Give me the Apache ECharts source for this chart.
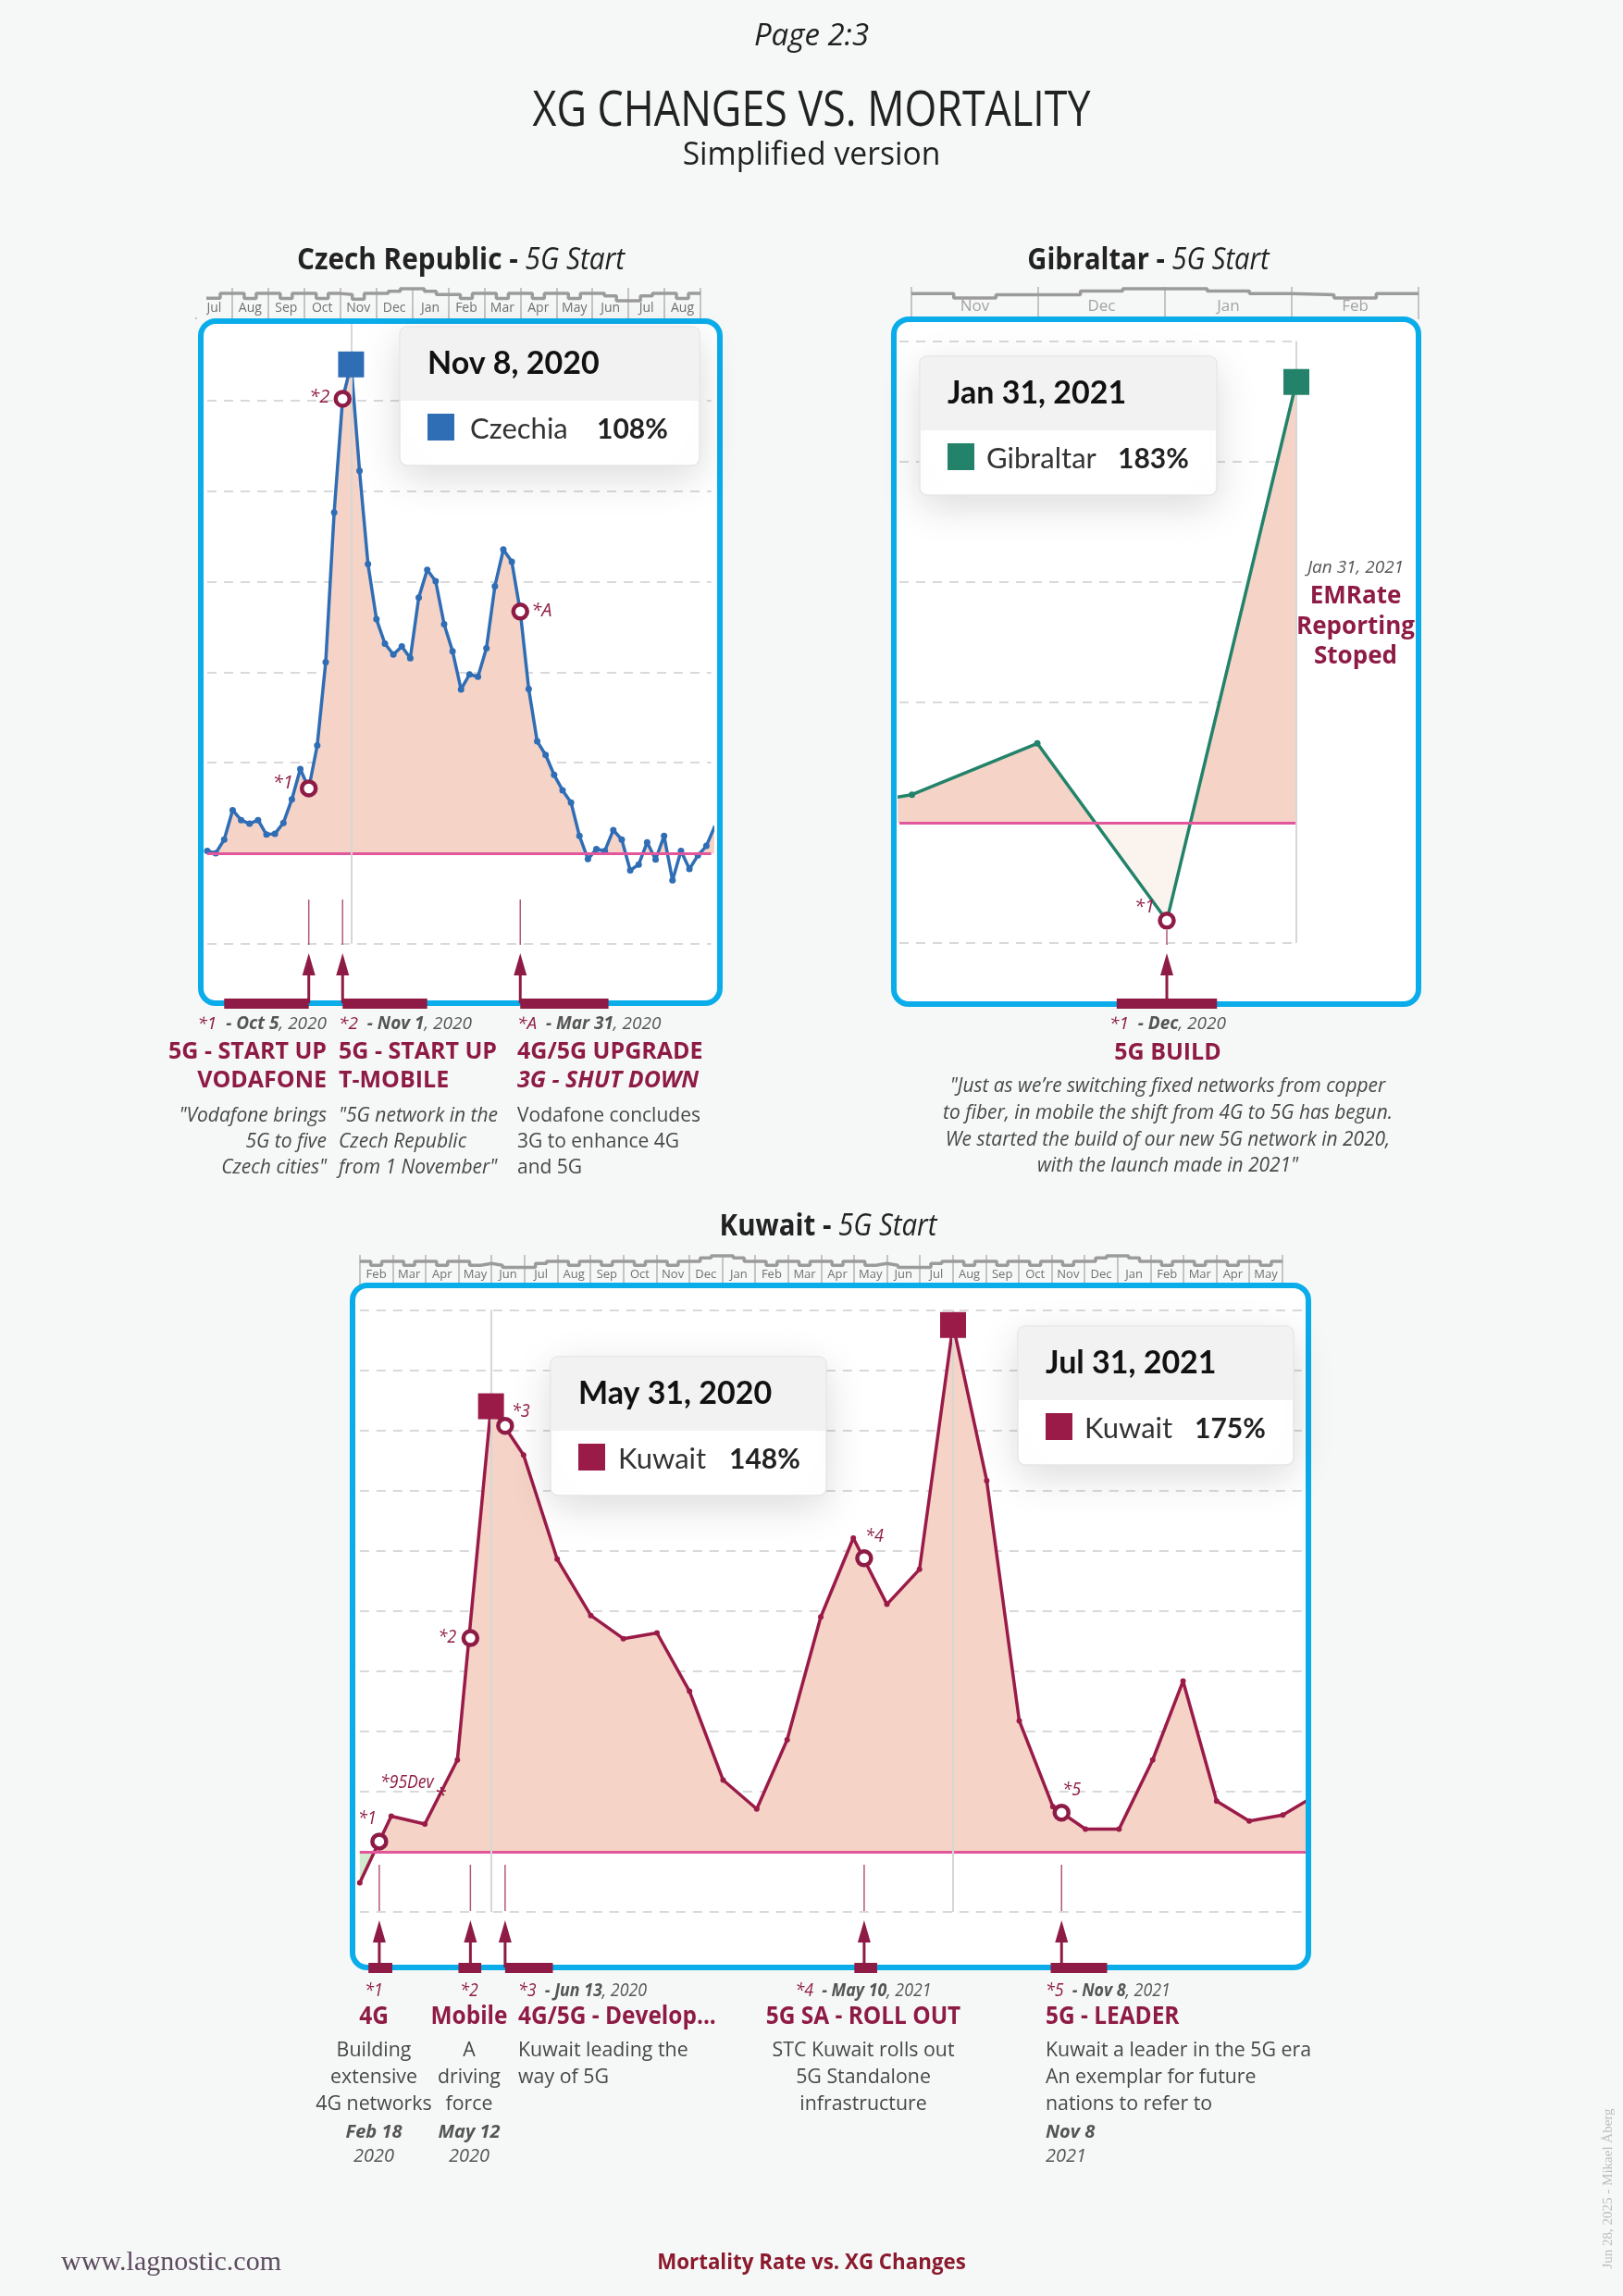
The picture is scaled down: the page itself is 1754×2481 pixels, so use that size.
<!DOCTYPE html>
<html>
<head>
<meta charset="utf-8">
<title>XG Changes vs. Mortality</title>
<script src="https://cdn.jsdelivr.net/npm/echarts@6/dist/echarts.min.js"></script>
<style>
  html, body { margin: 0; padding: 0; background: #f6f8f7; }
  #main { width: 1754px; height: 2481px; }
</style>
</head>
<body>
<div id="main"></div>
<script>
// ---------- values ----------

// Czech Republic, weekly mortality change (%), first week ending 12 Jul 2020
const czechStart = '2020-07-12';
const czechValues = [
  0.5, 0, 3.0, 9.5, 7.3, 6.5, 7.3, 4.1, 4.3, 6.7,
  11.9, 18.6, 14.3, 23.8, 42.2, 75.3, 100.4, 108, 84.5, 63.9,
  51.7, 46.3, 43.9, 45.7, 43.1, 56.5, 62.6, 60.1, 50.6, 44.6,
  36.2, 39.5, 39.0, 45.3, 59.0, 67.1, 64.4, 53.4, 36.3, 24.7,
  21.7, 17.3, 13.9, 11.2, 3.8, -1.3, 0.9, 0.5, 5.1, 3.0,
  -3.8, -2.5, 2.4, -1.4, 3.8, -6.0, 0.5, -3.5, -0.5, 1.6,
  6.0
];
const czechNotes = [
  { tag: '*1', date: '2020-10-04', value: 14.3, barFrom: '2020-07-26', barTo: '2020-10-04' },
  { tag: '*2', date: '2020-11-01', value: 100.4, barFrom: '2020-11-01', barTo: '2021-01-10' },
  { tag: '*A', date: '2021-03-28', value: 53.4, barFrom: '2021-03-28', barTo: '2021-06-09' }
];
const czechStripMonths = ['Jul', 'Aug', 'Sep', 'Oct', 'Nov', 'Dec', 'Jan', 'Feb', 'Mar', 'Apr', 'May', 'Jun', 'Jul', 'Aug'];
const czechStripLevels = [
  13, 13, 28, 28, 12, 28, 28, 12, 28, 28, 12, 28, 25, 10, 28, 28, 35, 43, 43, 35, 25,
  25, 12, 28, 28, 12, 28, 28, 12, 28, 28, 12, 28, 28, 20, 5, 5, 20, 28, 28, 12, 28
];

// Gibraltar, monthly
const gibDates = ['2020-09-30', '2020-10-31', '2020-11-30', '2020-12-31', '2021-01-31'];
const gibValues = [3, 11.6, 32.9, -40.7, 183];
const gibNotes = [
  { tag: '*1', date: '2020-12-31', value: -40.7, barFrom: '2020-12-19', barTo: '2021-01-12' }
];
const gibStripMonths = ['Nov', 'Dec', 'Jan', 'Feb'];
const gibStripLevels = [25, 12, 22, 22, 33, 40, 40, 33, 25, 22, 12, 25];

// Kuwait, monthly
const kuwaitDates = [
  '2020-01-31', '2020-02-29', '2020-03-31', '2020-04-30', '2020-05-31', '2020-06-30',
  '2020-07-31', '2020-08-31', '2020-09-30', '2020-10-31', '2020-11-30', '2020-12-31',
  '2021-01-31', '2021-02-28', '2021-03-31', '2021-04-30', '2021-05-31', '2021-06-30',
  '2021-07-31', '2021-08-31', '2021-09-30', '2021-10-31', '2021-11-30', '2021-12-31',
  '2022-01-31', '2022-02-28', '2022-03-31', '2022-04-30', '2022-05-31', '2022-06-30'
];
const kuwaitValues = [
  -10.3, 11.8, 9.2, 30.5, 148, 131.8, 97.2, 78.5, 70.8, 72.7, 53.3, 23.8,
  14.2, 37.2, 78, 104.2, 82.2, 93.8, 175, 123.3, 43.5, 15, 7.5, 7.5,
  30.5, 56.7, 16.8, 10.2, 12.2, 18.7
];
const kuwaitHighlights = ['2020-05-31', '2021-07-31'];
const kuwaitNotes = [
  { tag: '*1', date: '2020-02-18', value: 3.4, barFrom: '2020-02-08', barTo: '2020-03-01' },
  { tag: '*2', date: '2020-05-12', value: 71, barFrom: '2020-05-01', barTo: '2020-05-22' },
  { tag: '*3', date: '2020-06-13', value: 141.5, barFrom: '2020-06-13', barTo: '2020-07-27' },
  { tag: '*4', date: '2021-05-10', value: 97.5, barFrom: '2021-05-01', barTo: '2021-05-22' },
  { tag: '*5', date: '2021-11-08', value: 13, barFrom: '2021-10-29', barTo: '2021-12-20' }
];
const kuwaitAside = { tag: '*95Dev', date: '2020-04-15', value: 19.8 };
const kuwaitStripMonths = ['Feb', 'Mar', 'Apr', 'May', 'Jun', 'Jul', 'Aug', 'Sep', 'Oct', 'Nov', 'Dec', 'Jan',
  'Feb', 'Mar', 'Apr', 'May', 'Jun', 'Jul', 'Aug', 'Sep', 'Oct', 'Nov', 'Dec', 'Jan', 'Feb', 'Mar', 'Apr', 'May'];
const kuwaitStripLevels = [
  25, 12, 25, 25, 12, 25, 25, 12, 25, 25, 12, 18, 12, 5, 5, 5, 18, 25, 25, 12, 25, 25, 12, 25,
  25, 12, 25, 25, 12, 25, 25, 36, 43, 43, 36, 25, 25, 12, 25, 25, 12, 25, 25, 12, 25, 25, 12, 18,
  12, 5, 5, 5, 18, 25, 25, 12, 25, 25, 12, 25, 25, 12, 25, 25, 12, 25, 25, 36, 43, 43, 36, 25,
  25, 12, 25, 25, 12, 25, 25, 12, 25, 25, 12, 25
];

// annotation texts
const czechColumns = [
  { x: 353, align: 'right', date: ['*1', 'Oct 5', ', 2020'], head: ['5G - START UP', 'VODAFONE'],
    body: ['"Vodafone brings', '5G to five', 'Czech cities"'], italic: true },
  { x: 366, align: 'left', date: ['*2', 'Nov 1', ', 2020'], head: ['5G - START UP', 'T-MOBILE'],
    body: ['"5G network in the', 'Czech Republic', 'from 1 November"'], italic: true },
  { x: 559, align: 'left', date: ['*A', 'Mar 31', ', 2020'], head: ['4G/5G UPGRADE', '3G - SHUT DOWN'],
    body: ['Vodafone concludes', '3G to enhance 4G', 'and 5G'], italic: false }
];
const gibColumn = {
  date: ['*1', 'Dec', ', 2020'], head: '5G BUILD',
  body: ['"Just as we\u2019re switching fixed networks from copper', 'to fiber, in mobile the shift from 4G to 5G has begun.',
    'We started the build of our new 5G network in 2020,', 'with the launch made in 2021"']
};
const gibSide = ['Jan 31, 2021', 'EMRate', 'Reporting', 'Stoped'];
const kuwaitColumns = [
  { x: 404, align: 'center', date: ['*1', '', ''], head: '4G', body: ['Building', 'extensive', '4G networks'], when: ['Feb 18', '2020'] },
  { x: 507, align: 'center', date: ['*2', '', ''], head: 'Mobile', body: ['A', 'driving', 'force'], when: ['May 12', '2020'] },
  { x: 560, align: 'left', date: ['*3', 'Jun 13', ', 2020'], head: '4G/5G - Develop...', body: ['Kuwait leading the', 'way of 5G'] },
  { x: 933, align: 'center', date: ['*4', 'May 10', ', 2021'], head: '5G SA - ROLL OUT', body: ['STC Kuwait rolls out', '5G Standalone', 'infrastructure'] },
  { x: 1130, align: 'left', date: ['*5', 'Nov 8', ', 2021'], head: '5G - LEADER',
    body: ['Kuwait a leader in the 5G era', 'An exemplar for future', 'nations to refer to'], when: ['Nov 8', '2021'] }
];

// ---------- helpers ----------
const MON = ['Jan', 'Feb', 'Mar', 'Apr', 'May', 'Jun', 'Jul', 'Aug', 'Sep', 'Oct', 'Nov', 'Dec'];
const day = s => { const p = s.split('-'); return new Date(+p[0], p[1] - 1, +p[2]).getTime(); };
const fmt = ts => { const d = new Date(ts); return MON[d.getMonth()] + ' ' + d.getDate() + ', ' + d.getFullYear(); };

const FONT = '"Open Sans", "Noto Sans", sans-serif';
const TIP_FONT = 'Lato, "Open Sans", sans-serif';
const PAGE = '#f6f8f7';
const MAROON = '#8e1b45';
const TXT = '#474747';
const SALMON = '#f5d3c7';
const PINK = '#e2569b';
const BLUE = '#2f6db5';
const GREEN = '#23836a';
const KUW = '#9a1b48';

const czechData = czechValues.map((v, i) => [new Date(2020, 6, 12 + 7 * i).getTime(), v]);
const gibData = gibDates.map((d, i) => [day(d), gibValues[i]]);
const kuwaitData = kuwaitDates.map((d, i) => [day(d), kuwaitValues[i]]);

const czechPeak = czechData[czechValues.indexOf(Math.max(...czechValues))];
const gibPeak = gibData[gibValues.indexOf(Math.max(...gibValues))];
const kuwaitPeaks = kuwaitHighlights.map(d => kuwaitData[kuwaitDates.indexOf(d)]);

function mainY(gi, min, max, interval, showMax) {
  return {
    type: 'value', gridIndex: gi, min, max, interval,
    axisLine: { show: false }, axisTick: { show: false }, axisLabel: { show: false },
    splitLine: { show: true, showMaxLine: showMax, lineStyle: { color: '#d9d9d9', width: 2, type: [10, 8] } }
  };
}

function stripAxes(gi, months, label) {
  return [
    {
      type: 'category', gridIndex: gi, data: months, boundaryGap: true, position: 'bottom',
      axisLine: { show: false }, axisTick: { show: false },
      splitLine: { show: true, interval: 0, lineStyle: { color: '#b3b3b3', width: 1.5 } },
      axisLabel: Object.assign({ inside: true, margin: 5, interval: 0, fontFamily: FONT }, label)
    },
    { type: 'value', gridIndex: gi, min: 0, max: months.length * 3, show: false, position: 'top' }
  ];
}

function stripSeries(xi, yi, levels) {
  const data = levels.map((l, i) => [i, l]);
  data.push([levels.length, levels[levels.length - 1]]);
  return {
    type: 'line', xAxisIndex: xi, yAxisIndex: yi, data, step: 'end', symbol: 'none',
    lineStyle: { color: '#9b9b9b', width: 3.5 }, silent: true, z: 3
  };
}

function mainSeries(id, xi, yi, data, color, sym, width, cross) {
  return {
    id, type: 'line', xAxisIndex: xi, yAxisIndex: yi, data,
    symbol: 'circle', symbolSize: sym, showSymbol: true,
    itemStyle: { color }, lineStyle: { color, width },
    areaStyle: { color: SALMON, opacity: 1 },
    silent: true, z: 3,
    markLine: {
      silent: true, symbol: ['none', 'none'], label: { show: false }, animation: false,
      data: [{ yAxis: 0, lineStyle: { color: PINK, width: 3, type: 'solid' } }]
        .concat(cross.map(t => ({ xAxis: t, lineStyle: { color: '#d6d6d6', width: 2, type: 'solid' } })))
    }
  };
}

function peakSeries(xi, yi, pts, color) {
  return {
    type: 'scatter', xAxisIndex: xi, yAxisIndex: yi, data: pts,
    symbol: 'rect', symbolSize: 28, itemStyle: { color, opacity: 1 }, silent: true, z: 6
  };
}

function noteSeries(xi, yi, notes) {
  return {
    type: 'scatter', xAxisIndex: xi, yAxisIndex: yi,
    data: notes.map(n => [day(n.date), n.value]),
    symbol: 'circle', symbolSize: 15,
    itemStyle: { color: '#fff', borderColor: MAROON, borderWidth: 4.5, opacity: 1 }, silent: true, z: 7
  };
}

// ---------- chart ----------
const chart = echarts.init(document.getElementById('main'), null, { renderer: 'canvas', width: 1754, height: 2481 });

chart.setOption({
  backgroundColor: PAGE,
  animation: false,
  grid: [
    { left: 224, top: 344.9, width: 544.6, height: 674.8 },     // 0 Czech
    { left: 212, top: 311, width: 545, height: 34 },            // 1 Czech strip
    { left: 972, top: 368.5, width: 429, height: 650.5 },       // 2 Gibraltar
    { left: 985, top: 310, width: 548, height: 35 },            // 3 Gibraltar strip
    { left: 388.8, top: 1415.5, width: 1022.2, height: 650.5 }, // 4 Kuwait
    { left: 388.8, top: 1356, width: 997, height: 33 }          // 5 Kuwait strip
  ],
  xAxis: [
    { type: 'time', gridIndex: 0, min: day('2020-07-12'), max: day('2021-09-02'), show: false },
    ...stripAxes(1, czechStripMonths, { color: '#707070', fontSize: 14 }),
    { type: 'time', gridIndex: 2, min: day('2020-10-28'), max: day('2021-01-31'), show: false },
    ...stripAxes(3, gibStripMonths, { color: '#a3a3a3', fontSize: 17 }),
    { type: 'time', gridIndex: 4, min: day('2020-01-31'), max: day('2022-06-21'), show: false },
    ...stripAxes(5, kuwaitStripMonths, { color: '#707070', fontSize: 13 })
  ],
  yAxis: [
    mainY(0, -20, 118, 20, false),
    { type: 'value', gridIndex: 1, min: -54, max: 46, show: false },
    mainY(2, -50, 200, 50, true),
    { type: 'value', gridIndex: 3, min: -54, max: 46, show: false },
    mainY(4, -20, 180, 20, true),
    { type: 'value', gridIndex: 5, min: -54, max: 46, show: false }
  ],
  series: [
    mainSeries('cz', 0, 0, czechData, BLUE, 7, 3.5, [czechPeak[0]]),
    peakSeries(0, 0, [czechPeak], BLUE),
    noteSeries(0, 0, czechNotes),
    stripSeries(2, 1, czechStripLevels),

    mainSeries('gi', 3, 2, gibData, GREEN, 7, 3.5, [gibPeak[0]]),
    peakSeries(3, 2, [gibPeak], GREEN),
    noteSeries(3, 2, gibNotes),
    stripSeries(5, 3, gibStripLevels),

    mainSeries('ku', 6, 4, kuwaitData, KUW, 6, 3.5, kuwaitPeaks.map(p => p[0])),
    peakSeries(6, 4, kuwaitPeaks, KUW),
    noteSeries(6, 4, kuwaitNotes),
    stripSeries(8, 5, kuwaitStripLevels)
  ]
});

// ---------- second pass: pixel-dependent decoration ----------
const P = (gi, d, v) => chart.convertToPixel({ gridIndex: gi }, [d, v]);

function txt(x, y, text, o) {
  o = o || {};
  return {
    type: 'text', x, y, z: o.z || 30, scaleX: o.sx || 1, silent: true,
    style: {
      text, fill: o.color || TXT,
      fontFamily: o.family || FONT, fontSize: o.size || 20,
      fontWeight: o.weight || 'normal', fontStyle: o.style || 'normal',
      align: o.align || 'left', textAlign: o.align || 'left',
      verticalAlign: 'middle', textVerticalAlign: 'middle',
      rich: o.rich
    }
  };
}

function dateLine(x, y, parts, align, size, sx) {
  const base = { fontFamily: FONT, fontSize: size, fontStyle: 'italic' };
  const rich = {
    r: Object.assign({ fill: MAROON, color: MAROON }, base),
    g: Object.assign({ fill: '#555', color: '#555', fontWeight: 'bold' }, base),
    n: Object.assign({ fill: '#555', color: '#555' }, base)
  };
  let t = '{r|' + parts[0] + '}';
  if (parts[1]) t += '{g|  - ' + parts[1] + '}{n|' + parts[2] + '}';
  return txt(x, y, t, { align, rich, sx });
}

function box(x, y, w, h) {
  return [
    { type: 'rect', z: -5, silent: true, shape: { x, y, width: w, height: h, r: 16 }, style: { fill: '#ffffff' } },
    { type: 'rect', z: 20, silent: true, shape: { x, y, width: w, height: h, r: 16 }, style: { fill: 'none', stroke: '#0aadea', lineWidth: 6 } }
  ];
}

function tip(x, y, w, ts, name, val, color, nameDx, valDx) {
  const z = 40;
  return [
    { type: 'rect', z, silent: true, shape: { x, y, width: w, height: 150, r: 8 },
      style: { fill: '#fff', stroke: '#e6e6e6', lineWidth: 1.5, shadowBlur: 45, shadowColor: 'rgba(0,0,0,0.14)', shadowOffsetY: 12 } },
    { type: 'rect', z, silent: true, shape: { x: x + 1, y: y + 1, width: w - 2, height: 79, r: [7, 7, 0, 0] }, style: { fill: '#f2f2f2' } },
    txt(x + 30, y + 40, fmt(ts), { family: TIP_FONT, weight: 'bold', size: 34, color: '#111', z }),
    { type: 'rect', z, silent: true, shape: { x: x + 30, y: y + 94, width: 29, height: 29 }, style: { fill: color } },
    txt(x + nameDx, y + 111, name, { family: TIP_FONT, size: 31, color: '#333', z }),
    txt(x + valDx, y + 111, Math.round(val) + '%', { family: TIP_FONT, size: 30, weight: 'bold', color: '#222', z })
  ];
}

function arrows(gi, notes, g) {
  const out = [];
  notes.forEach(n => {
    const x = P(gi, day(n.date), 0)[0];
    const x1 = P(gi, day(n.barFrom), 0)[0];
    const x2 = P(gi, day(n.barTo), 0)[0];
    out.push(
      { type: 'line', z: 25, silent: true, shape: { x1: x, y1: g.top, x2: x, y2: g.bot }, style: { stroke: '#b2587c', lineWidth: 1.5 } },
      { type: 'polygon', z: 25, silent: true, shape: { points: [[x, g.tip], [x - 7, g.base], [x + 7, g.base]] }, style: { fill: MAROON } },
      { type: 'line', z: 25, silent: true, shape: { x1: x, y1: g.base, x2: x, y2: g.bar }, style: { stroke: MAROON, lineWidth: 3 } },
      { type: 'rect', z: 25, silent: true, shape: { x: x1, y: g.bar - 5, width: x2 - x1, height: 11 }, style: { fill: MAROON } }
    );
  });
  return out;
}

function noteLabels(gi, notes, offs, sx) {
  return notes.map(n => {
    const p = P(gi, day(n.date), n.value);
    const o = offs[n.tag];
    return txt(p[0] + o[0], p[1] + o[1], n.tag, { align: 'center', style: 'italic', size: 20, color: MAROON, sx });
  });
}

function split(gi, x, above, below) {
  const y0 = P(gi, x, 0)[1];
  return {
    type: 'linear', x: 0, y: y0 - 0.5, x2: 0, y2: y0 + 0.5, global: true,
    colorStops: [{ offset: 0, color: above }, { offset: 0.5, color: above }, { offset: 0.5, color: below }, { offset: 1, color: below }]
  };
}

const G = [];
// header
G.push(txt(877, 40, 'Page 2:3', { align: 'center', style: 'italic', size: 33, color: '#222' }));
G.push(txt(877, 121, 'XG CHANGES VS. MORTALITY', { align: 'center', size: 53, color: '#222', sx: 0.845 }));
G.push(txt(877, 168, 'Simplified version', { align: 'center', size: 34, color: '#222', sx: 0.99 }));

// chart titles
const titleRich = size => ({
  b: { fill: '#222', color: '#222', fontFamily: FONT, fontWeight: 'bold', fontSize: size },
  i: { fill: '#222', color: '#222', fontFamily: FONT, fontStyle: 'italic', fontSize: size }
});
G.push(txt(498, 282, '{b|Czech Republic - }{i|5G Start}', { align: 'center', rich: titleRich(32), sx: 0.93 }));
G.push(txt(1241, 282, '{b|Gibraltar - }{i|5G Start}', { align: 'center', rich: titleRich(32), sx: 0.91 }));
G.push(txt(895, 1326, '{b|Kuwait - }{i|5G Start}', { align: 'center', rich: titleRich(32), sx: 0.92 }));

// the Czech month strip begins mid-July: hide the part before the first week
G.push({ type: 'rect', z: 10, silent: true, shape: { x: 200, y: 300, width: 23, height: 43 }, style: { fill: PAGE } });

// boxes
G.push(...box(217, 347, 561, 737));
G.push(...box(966, 345, 567, 740));
G.push(...box(381, 1389, 1033, 737));

// tooltips
G.push(...tip(432, 353, 324, czechPeak[0], 'Czechia', czechPeak[1], BLUE, 76, 213));
G.push(...tip(994, 385, 321, gibPeak[0], 'Gibraltar', gibPeak[1], GREEN, 72, 214));
G.push(...tip(595, 1466, 298, kuwaitPeaks[0][0], 'Kuwait', kuwaitPeaks[0][1], KUW, 73, 193));
G.push(...tip(1100, 1433, 298, kuwaitPeaks[1][0], 'Kuwait', kuwaitPeaks[1][1], KUW, 72, 191));

// markers: arrows and bars
G.push(...arrows(0, czechNotes, { top: 972, bot: 1021, tip: 1030, base: 1054, bar: 1084 }));
G.push(...arrows(2, gibNotes, { top: 1005, bot: 1021, tip: 1030, base: 1054, bar: 1084 }));
G.push(...arrows(4, kuwaitNotes, { top: 2015, bot: 2065, tip: 2075, base: 2099, bar: 2126 }));

// marker labels
G.push(...noteLabels(0, czechNotes, { '*1': [-28, -6], '*2': [-25, -2], '*A': [23, 0] }));
G.push(...noteLabels(2, gibNotes, { '*1': [-24, -15] }));
G.push(...noteLabels(4, kuwaitNotes, { '*1': [-13, -25], '*2': [-25, -1], '*3': [17, -15], '*4': [11, -24], '*5': [11, -24] }, 0.9));
{
  const p = P(4, day(kuwaitAside.date), kuwaitAside.value);
  G.push(txt(p[0] - 8, p[1] - 10, kuwaitAside.tag, { align: 'right', style: 'italic', size: 20, color: MAROON, sx: 0.88 }));
  G.push(txt(p[0], p[1] + 4, '*', { align: 'center', size: 22, color: MAROON }));
}

// Czech annotations
czechColumns.forEach(c => {
  G.push(dateLine(c.x, 1107, c.date, c.align, 19));
  c.head.forEach((h, i) => G.push(txt(c.x, 1137 + i * 31, h, {
    align: c.align, size: 25, weight: 'bold', color: MAROON, style: (c.date[0] === '*A' && i === 1) ? 'italic' : 'normal'
  })));
  c.body.forEach((b, i) => G.push(txt(c.x, 1206 + i * 28, b, { align: c.align, size: 21, style: c.italic ? 'italic' : 'normal' })));
});

// Gibraltar annotations
G.push(dateLine(1262, 1107, gibColumn.date, 'center', 19));
G.push(txt(1262, 1138, gibColumn.head, { align: 'center', size: 25, weight: 'bold', color: MAROON }));
gibColumn.body.forEach((b, i) => G.push(txt(1262, 1174 + i * 28.7, b, { align: 'center', size: 22, style: 'italic', sx: 0.95 })));
G.push(txt(1465, 614, gibSide[0], { align: 'center', size: 19, style: 'italic', color: '#555' }));
gibSide.slice(1).forEach((s, i) => G.push(txt(1465, 645 + i * 32.5, s, { align: 'center', size: 26, weight: 'bold', color: MAROON })));

// Kuwait annotations
kuwaitColumns.forEach(c => {
  G.push(dateLine(c.x, 2151, c.date, c.align, 20, 0.89));
  G.push(txt(c.x, 2180, c.head, { align: c.align, size: 26, weight: 'bold', color: MAROON, sx: 0.94 }));
  c.body.forEach((b, i) => G.push(txt(c.x, 2216 + i * 28.8, b, { align: c.align, size: 22, sx: 0.97 })));
  if (c.when) {
    G.push(txt(c.x, 2304, c.when[0], { align: c.align, size: 20, weight: 'bold', style: 'italic', color: '#555' }));
    G.push(txt(c.x, 2330, c.when[1], { align: c.align, size: 20, style: 'italic', color: '#555' }));
  }
});

// footer
G.push(txt(66, 2445, 'www.lagnostic.com', { family: '"Liberation Serif", "DejaVu Serif", serif', size: 30, color: '#5d4b60' }));
G.push(txt(877, 2445, 'Mortality Rate vs. XG Changes', { align: 'center', size: 24, weight: 'bold', color: '#8b1a2e', sx: 0.93 }));
G.push({
  type: 'text', x: 1738, y: 2365, rotation: Math.PI / 2, silent: true, z: 30,
  style: { text: 'Jun 28, 2025 - Mikael \u00c5berg', fill: '#bdbdbd', fontFamily: '"Liberation Serif", serif', fontSize: 15,
    align: 'center', textAlign: 'center', verticalAlign: 'middle', textVerticalAlign: 'middle' }
});

chart.setOption({
  series: [
    { id: 'cz', areaStyle: { color: split(0, czechData[0][0], SALMON, 'rgba(255,255,255,0)') } },
    { id: 'gi', areaStyle: { color: split(2, gibData[1][0], SALMON, '#fbf3ed') } },
    { id: 'ku', areaStyle: { color: split(4, kuwaitData[1][0], SALMON, '#d3eacd') } }
  ],
  graphic: { elements: G }
});
</script>
</body>
</html>
